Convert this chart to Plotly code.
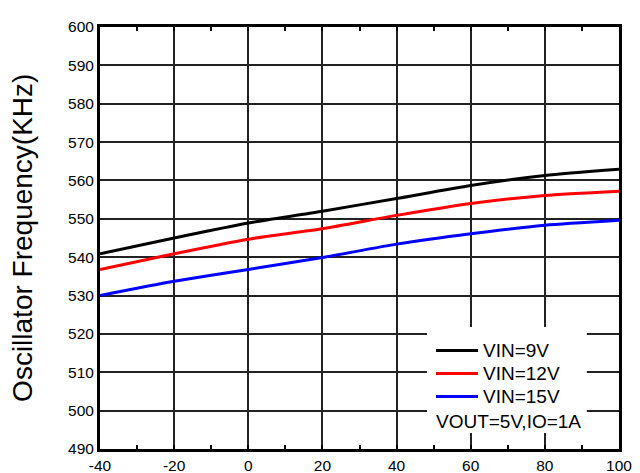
import plotly.graph_objects as go

temps = [-40, -20, 0, 20, 40, 60, 80, 100]
vin9 = [540.9, 545.0, 548.9, 552.0, 555.3, 558.7, 561.3, 562.9]
vin12 = [536.8, 540.9, 544.7, 547.4, 550.9, 554.0, 556.1, 557.2]
vin15 = [530.0, 533.7, 536.8, 539.9, 543.4, 546.1, 548.3, 549.6]
names = ["VIN=9V", "VIN=12V", "VIN=15V"]
colors = ["#000000", "#ff0000", "#0000ff"]
note = "VOUT=5V,IO=1A"
ytitle = "Oscillator Frequency(KHz)"
xtick_vals = [-40, -20, 0, 20, 40, 60, 80, 100]
xtick_text = ["-40", "-20", "0", "20", "40", "60", "80", "100"]

font = "Liberation Sans, Arial, sans-serif"

fig = go.Figure()
for name, ys, c in zip(names, [vin9, vin12, vin15], colors):
    fig.add_trace(go.Scatter(x=temps, y=ys, name=name, mode="lines", showlegend=False,
                             line=dict(color=c, width=3, shape="spline", smoothing=0.6)))

# white legend box
shapes = [dict(type="rect", xref="paper", yref="paper",
               x0=0.630, x1=0.938, y0=0.038, y1=0.289,
               fillcolor="white", line=dict(width=0), layer="above")]
annotations = []
row_y = [0.2334, 0.1789, 0.1244]
for name, c, yy in zip(names, colors, row_y):
    shapes.append(dict(type="line", xref="paper", yref="paper",
                       x0=0.6474, x1=0.7283, y0=yy, y1=yy,
                       line=dict(color=c, width=3), layer="above"))
    annotations.append(dict(text=name, xref="paper", yref="paper", x=0.735, y=yy,
                            xanchor="left", yanchor="middle", showarrow=False,
                            font=dict(size=19, family=font)))
annotations.append(dict(text=note, xref="paper", yref="paper", x=0.6430, y=0.0660,
                        xanchor="left", yanchor="middle", showarrow=False,
                        font=dict(size=19, family=font)))
annotations.append(dict(text=ytitle, xref="paper", yref="paper", x=-0.1505, y=0.5,
                        xanchor="center", yanchor="middle", textangle=-90,
                        showarrow=False, font=dict(size=28, family=font)))

# page body has an 8px margin, so the figure is drawn at (8, 8)
fig.update_layout(
    width=632, height=465,
    margin=dict(l=92, r=21, t=19, b=24),
    paper_bgcolor="white", plot_bgcolor="white",
    font=dict(family=font, color="black", size=15),
    showlegend=False,
    shapes=shapes,
    annotations=annotations,
)
fig.update_xaxes(range=[-40, 100], tickvals=xtick_vals, ticktext=xtick_text, automargin=False,
                 showgrid=True, gridcolor="#222", gridwidth=2,
                 showline=True, linecolor="black", linewidth=3, mirror="allticks",
                 ticks="inside", ticklen=0, tickfont=dict(size=15.5),
                 minor=dict(dtick=10, tick0=-40, ticks="inside", ticklen=4, tickwidth=1.5,
                            tickcolor="black", showgrid=False),
                 zeroline=False)
fig.update_yaxes(range=[490, 600], dtick=10, automargin=False,
                 showgrid=True, gridcolor="#222", gridwidth=2,
                 showline=True, linecolor="black", linewidth=3, mirror=True,
                 ticks="", tickfont=dict(size=15.5),
                 zeroline=False)
fig.write_html("out.html")
